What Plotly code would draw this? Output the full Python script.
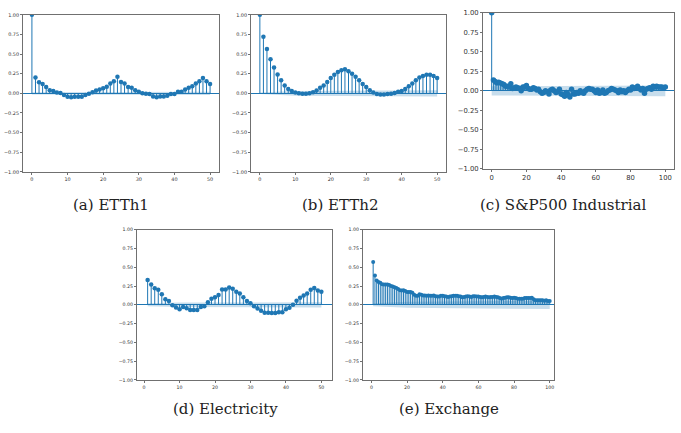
import plotly.graph_objects as go

# ---------------- data ----------------
lags_a = list(range(0, 51))
acf_a = [1.0, 0.20, 0.14, 0.12, 0.08, 0.04, 0.03, 0.01, 0.005, -0.02,
         -0.045, -0.05, -0.045, -0.045, -0.045, -0.02, -0.005, 0.015, 0.035, 0.05,
         0.065, 0.085, 0.125, 0.155, 0.21, 0.145, 0.125, 0.08, 0.07, 0.04,
         0.02, 0.0, -0.005, -0.01, -0.04, -0.05, -0.04, -0.04, -0.03, -0.01,
         -0.01, 0.02, 0.02, 0.05, 0.07, 0.09, 0.125, 0.155, 0.195, 0.155, 0.12]

lags_b = list(range(0, 51))
acf_b = [1.0, 0.72, 0.565, 0.435, 0.33, 0.24, 0.165, 0.10, 0.055, 0.03,
         0.01, 0.0, -0.005, -0.005, 0.0, 0.015, 0.035, 0.07, 0.10, 0.145,
         0.195, 0.235, 0.27, 0.295, 0.305, 0.28, 0.25, 0.21, 0.165, 0.12,
         0.08, 0.04, 0.01, -0.01, -0.015, -0.015, -0.01, -0.005, 0.005, 0.02,
         0.03, 0.055, 0.09, 0.125, 0.165, 0.20, 0.22, 0.235, 0.235, 0.22, 0.195]

lags_c = list(range(0, 101))
acf_c = [1.0, 0.14, 0.12, 0.10, 0.11, 0.10, 0.09, 0.08, 0.06, 0.06,
         0.05, 0.09, 0.03, 0.04, 0.05, 0.04, 0.03, 0.0, 0.05, 0.05,
         0.07, 0.03, 0.02, 0.02, 0.04, 0.03, 0.01, 0.02, -0.01, -0.03,
         -0.02, 0.0, -0.01, -0.04, 0.01, 0.02, 0.0, -0.02, -0.01, 0.02,
         -0.04, -0.05, -0.07, -0.02, -0.05, -0.08, 0.02, -0.04, -0.04, -0.02,
         -0.03, 0.0, -0.02, -0.03, 0.0, 0.02, 0.03, 0.02, 0.02, 0.0,
         -0.02, 0.01, -0.03, -0.02, 0.01, -0.03, -0.02, 0.0, 0.01, 0.03,
         0.02, 0.01, 0.0, -0.02, 0.01, -0.01, 0.0, -0.02, 0.0, 0.02,
         0.01, 0.05, 0.03, 0.04, 0.06, 0.03, 0.01, 0.03, -0.03, 0.02,
         0.03, 0.04, 0.02, 0.06, 0.05, 0.06, 0.05, 0.05, 0.05, 0.04, 0.05]

lags_d = list(range(1, 51))
acf_d = [0.33, 0.27, 0.22, 0.20, 0.14, 0.075, 0.05, -0.005, -0.035, -0.06,
         -0.03, -0.045, -0.07, -0.07, -0.07, -0.03, -0.02, 0.035, 0.08, 0.10,
         0.13, 0.205, 0.205, 0.23, 0.215, 0.175, 0.15, 0.10, 0.05, 0.02,
         -0.02, -0.05, -0.08, -0.105, -0.105, -0.11, -0.11, -0.10, -0.10, -0.06,
         -0.04, 0.0, 0.055, 0.095, 0.125, 0.15, 0.20, 0.225, 0.19, 0.175]

lags_e = list(range(1, 101))
acf_e = [0.57, 0.39, 0.325, 0.305, 0.295, 0.275, 0.27, 0.27, 0.27, 0.265,
         0.25, 0.245, 0.235, 0.225, 0.21, 0.195, 0.19, 0.195, 0.185, 0.17,
         0.17, 0.17, 0.16, 0.135, 0.12, 0.12, 0.14, 0.135, 0.125, 0.125,
         0.12, 0.125, 0.12, 0.12, 0.125, 0.115, 0.11, 0.11, 0.12, 0.12,
         0.115, 0.11, 0.105, 0.11, 0.115, 0.12, 0.12, 0.12, 0.115, 0.11,
         0.10, 0.105, 0.11, 0.115, 0.11, 0.105, 0.115, 0.115, 0.11, 0.11,
         0.105, 0.10, 0.105, 0.11, 0.105, 0.10, 0.105, 0.105, 0.11, 0.105,
         0.10, 0.09, 0.08, 0.09, 0.095, 0.10, 0.10, 0.095, 0.09, 0.095,
         0.09, 0.08, 0.08, 0.08, 0.08, 0.09, 0.09, 0.09, 0.09, 0.095,
         0.075, 0.06, 0.06, 0.06, 0.06, 0.06, 0.055, 0.06, 0.05, 0.05]

# confidence band half-widths at anchor lags (lag, half-width)
band_a = [(0, 0.015), (50, 0.02)]
band_b = [(0, 0.01), (10, 0.03), (50, 0.04)]
band_c = [(0, 0.06), (100, 0.068)]
band_d = [(1, 0.02), (10, 0.03), (50, 0.035)]
band_e = [(1, 0.02), (20, 0.04), (100, 0.055)]

captions = ["(a) ETTh1", "(b) ETTh2", "(c) S&P500 Industrial", "(d) Electricity", "(e) Exchange"]

y_ticks = [1.0, 0.75, 0.5, 0.25, 0.0, -0.25, -0.5, -0.75, -1.0]

# ---------------- layout geometry ----------------
W, H = 681, 433
def px(x0, x1, ytop, ybot):
    return [x0 / W, x1 / W], [1 - ybot / H, 1 - ytop / H]

panels = [
    dict(lags=lags_a, acf=acf_a, band=band_a, box=(23, 219, 11, 171), xr=[-2.5, 52.5],
         xt=[0, 10, 20, 30, 40, 50], fs=4.9, ms=4.5, cap=(111, 205)),
    dict(lags=lags_b, acf=acf_b, band=band_b, box=(251, 446, 11, 171), xr=[-2.5, 52.5],
         xt=[0, 10, 20, 30, 40, 50], fs=4.9, ms=4.5, cap=(340, 205)),
    dict(lags=lags_c, acf=acf_c, band=band_c, box=(483, 674, 9, 168), xr=[-5, 105],
         xt=[0, 20, 40, 60, 80, 100], fs=6.8, ms=5.5, cap=(563, 205)),
    dict(lags=lags_d, acf=acf_d, band=band_d, box=(137, 332, 230, 383), xr=[-2, 53],
         xt=[0, 10, 20, 30, 40, 50], fs=4.7, ms=4.5, cap=(225, 413)),
    dict(lags=lags_e, acf=acf_e, band=band_e, box=(363, 554, 230, 383), xr=[-4.7, 102.4],
         xt=[0, 20, 40, 60, 80, 100], fs=4.7, ms=4, cap=(449, 413)),
]

BLUE = "#1f77b4"
fig = go.Figure()
layout = dict(width=W, height=H, margin=dict(l=0, r=0, t=0, b=0),
              plot_bgcolor="white", paper_bgcolor="white", showlegend=False)
annotations = []

for i, p in enumerate(panels, start=1):
    xs = "x" if i == 1 else f"x{i}"
    ys = "y" if i == 1 else f"y{i}"
    xd, yd = px(*p["box"])
    # band
    bx = [b[0] for b in p["band"]]
    bu = [b[1] for b in p["band"]]
    fig.add_trace(go.Scatter(x=bx + bx[::-1], y=bu + [-v for v in bu[::-1]],
                             fill="toself", fillcolor="rgba(31,119,180,0.25)",
                             line=dict(width=0), mode="lines", xaxis=xs, yaxis=ys,
                             hoverinfo="skip"))
    # stems
    sx, sy = [], []
    for l, v in zip(p["lags"], p["acf"]):
        sx += [l, l, None]
        sy += [0, v, None]
    fig.add_trace(go.Scatter(x=sx, y=sy, mode="lines", line=dict(color=BLUE, width=1),
                             xaxis=xs, yaxis=ys, hoverinfo="skip"))
    # markers
    fig.add_trace(go.Scatter(x=p["lags"], y=p["acf"], mode="markers",
                             marker=dict(color=BLUE, size=p["ms"]), xaxis=xs, yaxis=ys))
    axx = dict(domain=xd, range=p["xr"], anchor=ys, tickvals=p["xt"],
               ticktext=[str(t) for t in p["xt"]], showgrid=False, zeroline=False,
               showline=True, mirror=True, linecolor="#707070", linewidth=1,
               ticks="outside", ticklen=2, tickcolor="#707070",
               tickfont=dict(family="DejaVu Sans", size=p["fs"], color="#333"))
    axy = dict(domain=yd, range=[-1.0, 1.0], anchor=xs, tickvals=y_ticks,
               ticktext=[f"{t:.2f}".replace("-", "\u2212") for t in y_ticks],
               showgrid=False, zeroline=True, zerolinecolor=BLUE, zerolinewidth=1.3,
               showline=True, mirror=True, linecolor="#707070", linewidth=1,
               ticks="outside", ticklen=2, tickcolor="#707070",
               tickfont=dict(family="DejaVu Sans", size=p["fs"], color="#333"))
    layout["xaxis" if i == 1 else f"xaxis{i}"] = axx
    layout["yaxis" if i == 1 else f"yaxis{i}"] = axy
    cx, cy = p["cap"]
    annotations.append(dict(text=captions[i - 1], x=cx / W, y=1 - cy / H, xref="paper",
                            yref="paper", showarrow=False, xanchor="center", yanchor="middle",
                            font=dict(family="DejaVu Serif", size=15, color="#222")))

layout["annotations"] = annotations
fig.update_layout(**layout)
fig.write_html("out.html")
